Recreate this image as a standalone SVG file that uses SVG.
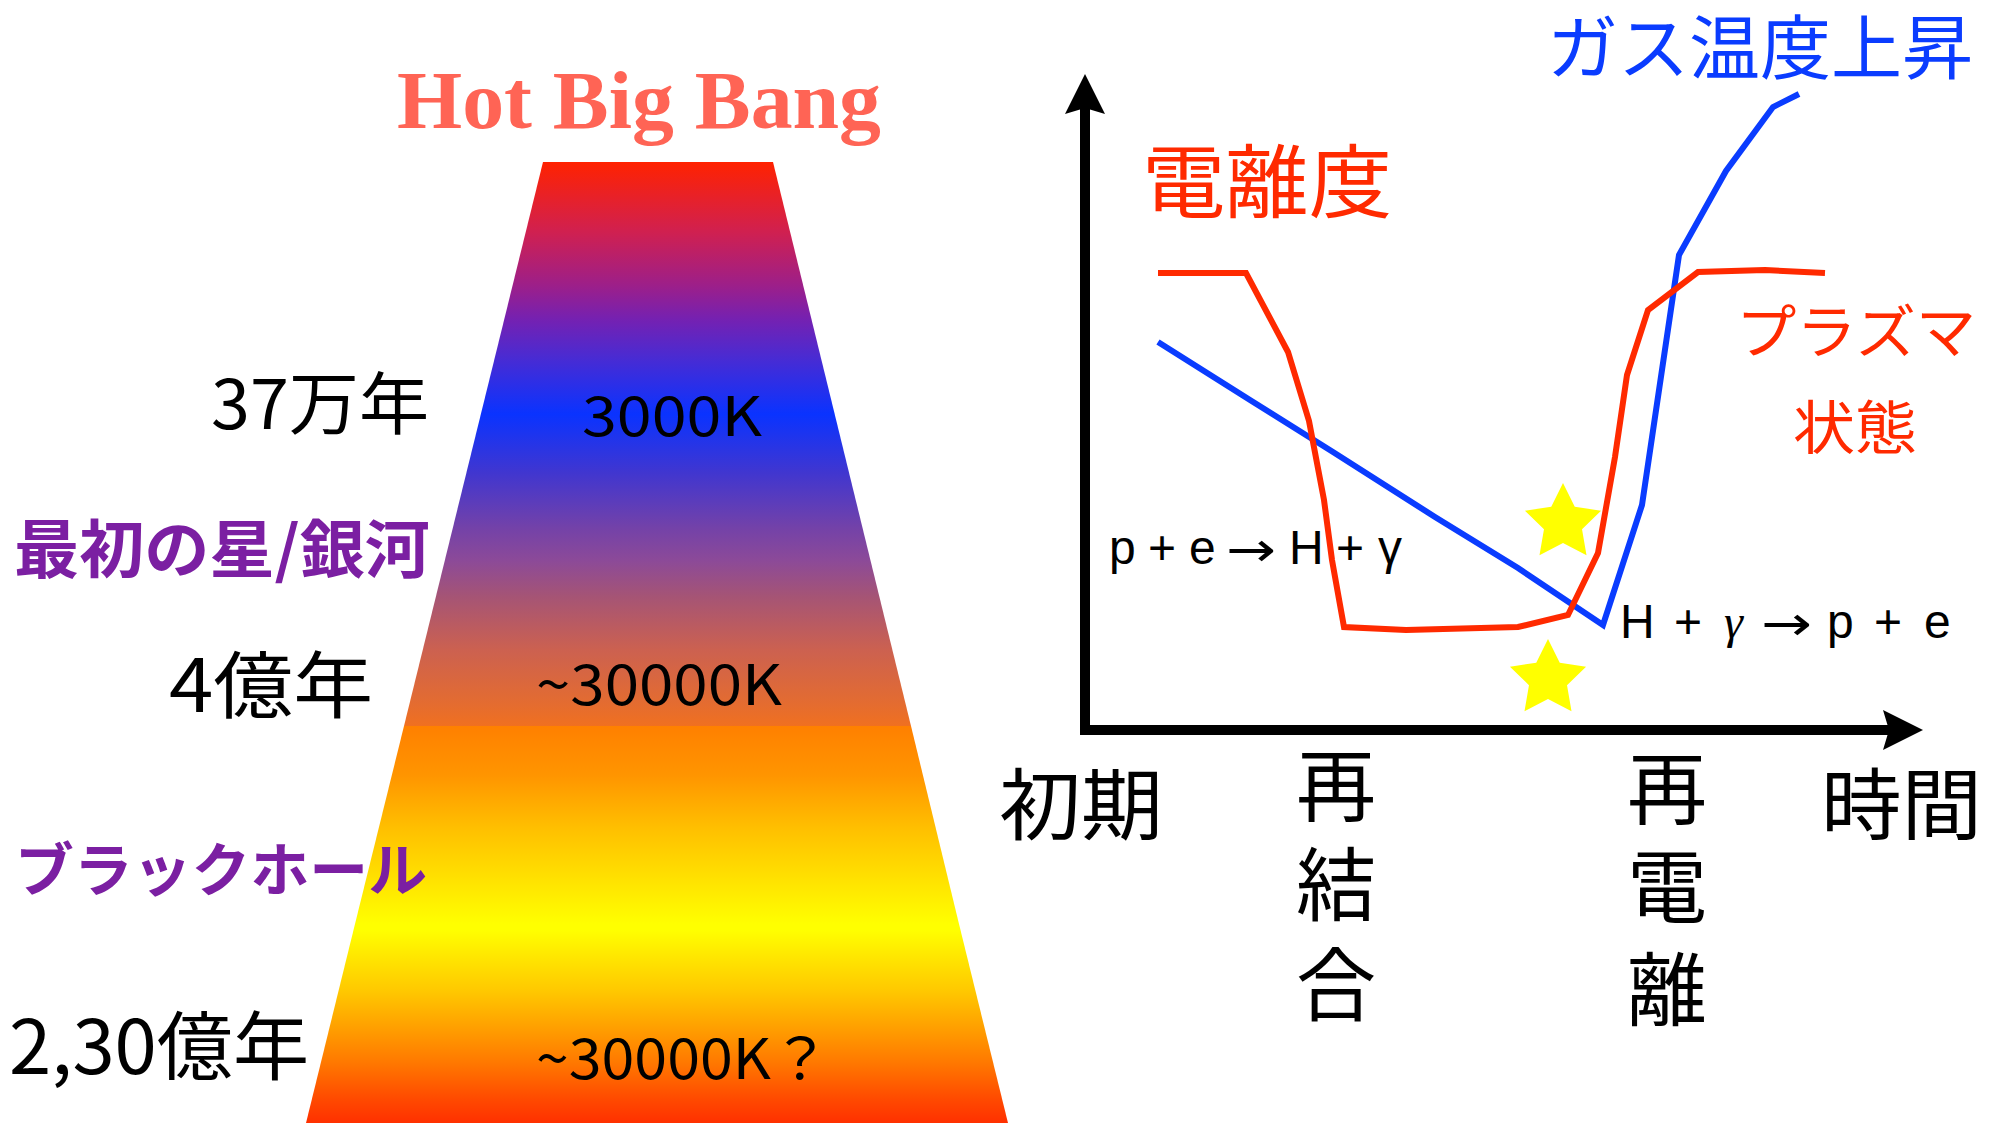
<svg xmlns="http://www.w3.org/2000/svg" width="2000" height="1123" viewBox="0 0 2000 1123">
<defs>
<style>
.cjk{font-family:"Noto Sans CJK JP","Noto Sans CJK SC",sans-serif}
.lat{font-family:"Liberation Sans","DejaVu Sans",sans-serif}
.arr{font-family:"DejaVu Sans",sans-serif}
.blk{fill:#000}
.pur{fill:#7b1fa2;font-weight:bold}
.red{fill:#ff2a00}
.blu{fill:#0a3cff}
.curve{fill:none;stroke-width:6;stroke-linejoin:miter}
.axis{fill:none;stroke:#000;stroke-width:10;stroke-linejoin:miter}
</style>
<linearGradient id="g1" x1="0" y1="0" x2="0" y2="1">
<stop offset="0" stop-color="#ff2200"/>
<stop offset="0.124" stop-color="#d02050"/>
<stop offset="0.22" stop-color="#9c1f8a"/>
<stop offset="0.28" stop-color="#7421b2"/>
<stop offset="0.346" stop-color="#4a2bd2"/>
<stop offset="0.447" stop-color="#0a33ff"/>
<stop offset="0.55" stop-color="#4036d0"/>
<stop offset="0.65" stop-color="#7442a8"/>
<stop offset="0.707" stop-color="#8c4a98"/>
<stop offset="0.77" stop-color="#a55475"/>
<stop offset="0.865" stop-color="#cc6150"/>
<stop offset="0.961" stop-color="#e46c30"/>
<stop offset="1" stop-color="#f07020"/>
</linearGradient>
<linearGradient id="g2" x1="0" y1="0" x2="0" y2="1">
<stop offset="0" stop-color="#ff8000"/>
<stop offset="0.25" stop-color="#ff9500"/>
<stop offset="0.52" stop-color="#ffc000"/>
<stop offset="0.8" stop-color="#ffe500"/>
<stop offset="1" stop-color="#ffff00"/>
</linearGradient>
<linearGradient id="g3" x1="0" y1="0" x2="0" y2="1">
<stop offset="0.03" stop-color="#ffff00"/>
<stop offset="0.156" stop-color="#ffe800"/>
<stop offset="0.337" stop-color="#ffc800"/>
<stop offset="0.518" stop-color="#ffa000"/>
<stop offset="0.698" stop-color="#ff7800"/>
<stop offset="0.879" stop-color="#ff4a00"/>
<stop offset="1" stop-color="#ff3000"/>
</linearGradient>
<path id="star" d="M0,-40 L11.76,-16.18 L38.04,-12.36 L19.02,6.18 L23.51,32.36 L0,20 L-23.51,32.36 L-19.02,6.18 L-38.04,-12.36 L-11.76,-16.18 Z" fill="#ffff00"/>
<marker id="ah" markerUnits="userSpaceOnUse" viewBox="0 -21 41 42" refX="6" refY="0" markerWidth="41" markerHeight="42" orient="auto-start-reverse">
<path d="M0,-20 L40,0 L0,20 L6,0 Z" fill="#000"/>
</marker>
</defs>
<rect width="2000" height="1123" fill="#fff"/>

<g id="title">
<text x="397" y="128" font-family="Liberation Serif,serif" font-weight="bold" font-size="83" fill="#ff6455" textLength="484" lengthAdjust="spacingAndGlyphs">Hot Big Bang</text>
</g>

<g id="temperature-column">
<polygon points="543,162 773,162 911,726 404,726" fill="url(#g1)"/>
<polygon points="404,726 911,726 959,924 355,924" fill="url(#g2)"/>
<polygon points="355,924 959,924 1008,1123 306,1123" fill="url(#g3)"/>
</g>

<g id="t-3000K"><text class="cjk blk" x="582" y="436" font-size="55" textLength="180" lengthAdjust="spacingAndGlyphs">3000K</text></g>
<g id="t-30000K"><text class="cjk blk" x="536" y="705" font-size="56" textLength="246" lengthAdjust="spacingAndGlyphs">~30000K</text></g>
<g id="t-30000K-q"><text class="cjk blk" x="536" y="1079" font-size="56" textLength="294" lengthAdjust="spacingAndGlyphs">~30000K？</text></g>

<g id="age-37man"><text class="cjk blk" x="211" y="429" font-size="68" textLength="218" lengthAdjust="spacingAndGlyphs">37万年</text></g>
<g id="first-stars"><text class="cjk pur" x="14" y="572" font-size="63" textLength="416" lengthAdjust="spacingAndGlyphs">最初の星/銀河</text></g>
<g id="age-4oku"><text class="cjk blk" x="169" y="712" font-size="73" textLength="204" lengthAdjust="spacingAndGlyphs">4億年</text></g>
<g id="black-hole"><text class="cjk pur" x="15" y="891" font-size="58" textLength="412" lengthAdjust="spacingAndGlyphs">ブラックホール</text></g>
<g id="age-230oku"><text class="cjk blk" x="9" y="1074" font-size="75" textLength="300" lengthAdjust="spacingAndGlyphs">2,30億年</text></g>

<g id="connectors">
<path class="axis" d="M1085,108 V730 H1889" marker-start="url(#ah)" marker-end="url(#ah)"/>
<polyline class="curve" stroke="#0a3cff" points="1158,342 1250,400 1333,452 1435,517 1518,568 1603,625 1642,505 1679,255 1726,171 1773,107 1799,94"/>
<polyline class="curve" stroke="#ff2a00" points="1158,273 1246,273 1288,352 1309,421 1324,500 1332,560 1344,627 1406,630 1518,627 1568,615 1598,553 1615,457 1627,375 1648,310 1698,272 1765,270 1825,273"/>
</g>

<g id="star-upper"><use href="#star" x="1563" y="523"/></g>
<g id="star-lower"><use href="#star" x="1548" y="679"/></g>

<g id="ionization-label"><text class="cjk red" x="1142" y="211" font-size="80" textLength="250" lengthAdjust="spacingAndGlyphs">電離度</text></g>
<g id="gas-temp-label"><text class="cjk blu" x="1547" y="74" font-size="70" textLength="426" lengthAdjust="spacingAndGlyphs">ガス温度上昇</text></g>
<g id="plasma-label">
<text class="cjk red" x="1736" y="353" font-size="58" textLength="240" lengthAdjust="spacingAndGlyphs">プラズマ</text>
<text class="cjk red" x="1793" y="449" font-size="58" textLength="124" lengthAdjust="spacingAndGlyphs">状態</text>
</g>

<g id="recombination-eq">
<text class="lat blk" font-size="48" y="564"><tspan x="1109">p</tspan><tspan x="1148">+</tspan><tspan x="1189">e</tspan><tspan x="1289">H</tspan><tspan x="1336">+</tspan><tspan x="1378">γ</tspan></text>
<text class="arr blk" font-size="48" x="1226" y="566" textLength="50" lengthAdjust="spacingAndGlyphs">→</text>
</g>
<g id="reionization-eq">
<text class="lat blk" font-size="48" y="638"><tspan x="1620">H</tspan><tspan x="1674">+</tspan><tspan x="1724" font-family="Liberation Serif,serif" font-style="italic">γ</tspan><tspan x="1827">p</tspan><tspan x="1874">+</tspan><tspan x="1924">e</tspan></text>
<text class="arr blk" font-size="48" x="1761" y="640" textLength="51" lengthAdjust="spacingAndGlyphs">→</text>
</g>

<g id="label-early"><text class="cjk blk" x="999" y="834" font-size="78" textLength="164" lengthAdjust="spacingAndGlyphs">初期</text></g>
<g id="label-recombination">
<text class="cjk blk" font-size="80" text-anchor="middle"><tspan x="1336" y="815">再</tspan><tspan x="1336" y="914">結</tspan><tspan x="1336" y="1014">合</tspan></text>
</g>
<g id="label-reionization">
<text class="cjk blk" font-size="80" text-anchor="middle"><tspan x="1667" y="818">再</tspan><tspan x="1667" y="916">電</tspan><tspan x="1667" y="1019">離</tspan></text>
</g>
<g id="label-time"><text class="cjk blk" x="1821" y="834" font-size="78" textLength="161" lengthAdjust="spacingAndGlyphs">時間</text></g>
</svg>
